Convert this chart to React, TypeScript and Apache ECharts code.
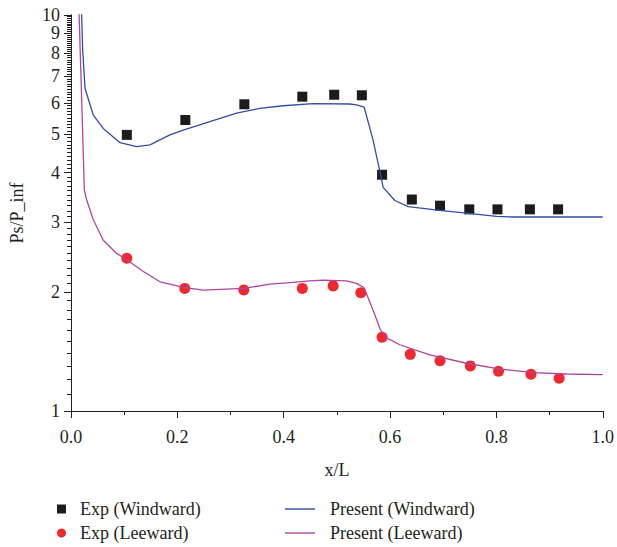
import React, { useEffect, useRef } from "react";
import * as echarts from "echarts";

// Experimental pressure ratios (markers)
const expWindX = [0.105, 0.215, 0.326, 0.435, 0.495, 0.547, 0.585, 0.641, 0.694, 0.749, 0.802, 0.863, 0.916];
const expWindY = [4.98, 5.43, 5.95, 6.22, 6.29, 6.27, 3.95, 3.42, 3.3, 3.23, 3.23, 3.23, 3.23];
const expLeeX = [0.105, 0.214, 0.325, 0.435, 0.493, 0.545, 0.585, 0.638, 0.694, 0.751, 0.804, 0.865, 0.918];
const expLeeY = [2.43, 2.04, 2.02, 2.04, 2.07, 1.99, 1.535, 1.39, 1.34, 1.3, 1.26, 1.238, 1.21];

// Computed distributions (lines)
const presWindX = [0.0195, 0.022, 0.0263, 0.0419, 0.0607, 0.0921, 0.1235, 0.1485, 0.186, 0.211, 0.261, 0.3115, 0.355, 0.399, 0.4555, 0.5244, 0.537, 0.5513, 0.568, 0.5776, 0.587, 0.609, 0.634, 0.6936, 0.7438, 0.8002, 0.831, 0.9, 1.0];
const presWindY = [10.5, 8.16, 6.53, 5.59, 5.17, 4.76, 4.65, 4.7, 4.98, 5.12, 5.38, 5.65, 5.81, 5.9, 5.97, 5.96, 5.93, 5.85, 4.84, 4.22, 3.67, 3.4, 3.28, 3.21, 3.16, 3.1, 3.09, 3.09, 3.09];
const presLeeX = [0.0148, 0.0182, 0.022, 0.025, 0.0295, 0.0419, 0.0607, 0.0859, 0.1047, 0.136, 0.1673, 0.2143, 0.2487, 0.3252, 0.374, 0.4117, 0.449, 0.474, 0.518, 0.537, 0.5508, 0.568, 0.5822, 0.5934, 0.6184, 0.6748, 0.744, 0.8064, 0.869, 0.932, 1.0];
const presLeeY = [10.5, 7.4, 5.02, 3.62, 3.41, 3.04, 2.7, 2.5, 2.41, 2.25, 2.12, 2.05, 2.02, 2.04, 2.09, 2.11, 2.13, 2.14, 2.13, 2.1, 2.05, 1.8, 1.6, 1.53, 1.47, 1.385, 1.32, 1.276, 1.25, 1.24, 1.235];

// Axis ticks
const yMajorTicks = [1, 2, 3, 4, 5, 6, 7, 8, 9, 10];
const yMinorTicks: number[] = [];
for (let i = 1; i < 10; i++) {
  for (let j = 1; j < 10; j++) yMinorTicks.push(Number((i + j / 10).toFixed(1)));
}

const zip = (xs: number[], ys: number[]) => xs.map((x, i) => [x, ys[i]]);

const INK = "#231f20";
const FONT = "Liberation Serif";
const WIND = "#2f4ea8";
const LEE = "#b1449f";

export default function App() {
  const ref = useRef<HTMLDivElement>(null);

  useEffect(() => {
    if (!ref.current) return;
    const chart = echarts.init(ref.current, undefined, { renderer: "svg" });
    const axisBase = {
      type: "log" as const,
      logBase: 10,
      min: 1,
      max: 10,
      position: "left" as const,
      splitLine: { show: false },
      axisLine: { show: true, lineStyle: { color: INK, width: 1 } },
    };
    const text = { fontFamily: FONT, fontSize: 18, color: INK };
    chart.setOption({
      animation: false,
      backgroundColor: "#ffffff",
      textStyle: { fontFamily: FONT, color: INK },
      grid: { left: 71, right: 14, top: 15, bottom: 136 },
      xAxis: {
        type: "value",
        min: 0,
        max: 1,
        interval: 0.2,
        name: "x/L",
        nameLocation: "middle",
        nameGap: 50,
        nameTextStyle: text,
        axisLine: { show: true, lineStyle: { color: INK, width: 1 } },
        axisTick: { show: true, length: 7, lineStyle: { color: INK } },
        minorTick: { show: true, splitNumber: 2, length: 4, lineStyle: { color: INK } },
        splitLine: { show: false },
        axisLabel: {
          ...text,
          margin: 17,
          formatter: (v: number) => v.toFixed(1),
        },
      },
      yAxis: [
        {
          ...axisBase,
          name: "Ps/P_inf",
          nameLocation: "middle",
          nameGap: 45,
          nameTextStyle: text,
          axisTick: { show: true, length: 7, customValues: yMajorTicks, lineStyle: { color: INK } },
          axisLabel: {
            ...text,
            margin: 11,
            customValues: yMajorTicks,
            formatter: (v: number) => String(Math.round(v)),
          },
        },
        {
          ...axisBase,
          axisTick: { show: true, length: 4, customValues: yMinorTicks, lineStyle: { color: INK } },
          axisLabel: { show: false },
        },
      ],
      legend: [
        {
          orient: "vertical",
          left: 57,
          top: 500,
          padding: 0,
          itemGap: 6,
          itemWidth: 9,
          itemHeight: 9,
          textStyle: { ...text, padding: [0, 0, 0, 9] },
          data: ["Exp (Windward)", "Exp (Leeward)"],
        },
        {
          orient: "vertical",
          left: 285,
          top: 500,
          padding: 0,
          itemGap: 6,
          itemWidth: 30,
          itemHeight: 1.4,
          textStyle: { ...text, padding: [0, 0, 0, 10] },
          data: [
            { name: "Present (Windward)", icon: "rect", itemStyle: { color: WIND } },
            { name: "Present (Leeward)", icon: "rect", itemStyle: { color: LEE } },
          ],
        },
      ],
      series: [
        {
          name: "Exp (Windward)",
          type: "scatter",
          symbol: "rect",
          symbolSize: 10,
          itemStyle: { color: "#1c1c1c", opacity: 1 },
          data: zip(expWindX, expWindY),
        },
        {
          name: "Exp (Leeward)",
          type: "scatter",
          symbol: "circle",
          symbolSize: 11,
          itemStyle: { color: "#ee2a2e", opacity: 1 },
          data: zip(expLeeX, expLeeY),
        },
        {
          name: "Present (Windward)",
          type: "line",
          symbol: "none",
          clip: true,
          lineStyle: { color: WIND, width: 1.3 },
          itemStyle: { color: WIND },
          data: zip(presWindX, presWindY),
        },
        {
          name: "Present (Leeward)",
          type: "line",
          symbol: "none",
          clip: true,
          lineStyle: { color: LEE, width: 1.3 },
          itemStyle: { color: LEE },
          data: zip(presLeeX, presLeeY),
        },
      ],
    });
    return () => chart.dispose();
  }, []);

  return (
    <div
      ref={ref}
      style={{ position: "fixed", left: 0, top: 0, width: 617, height: 547, background: "#fff" }}
    />
  );
}
